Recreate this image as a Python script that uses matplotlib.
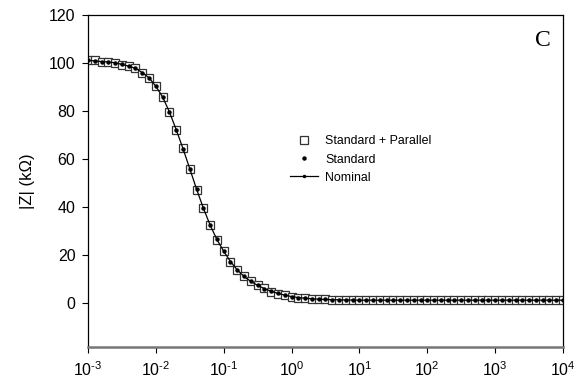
import numpy as np
import matplotlib
matplotlib.use("Agg")
import matplotlib.pyplot as plt

plt.rcParams['font.family'] = ['Liberation Sans', 'DejaVu Sans']
plt.rcParams['mathtext.fontset'] = 'custom'
plt.rcParams['mathtext.rm'] = 'Liberation Sans'
plt.rcParams['mathtext.default'] = 'regular'

# frequency points: 10 per decade, 1e-3 .. 1e4
exps = np.arange(0, 71) / 10.0 - 3
freq = 10 ** exps

# |Z| in kOhm
z_nominal = [101.1, 100.9, 100.6, 100.4, 100.1, 99.4, 98.7, 97.8, 96.0, 93.8,
             90.3, 85.8, 79.6, 72.2, 64.3, 55.9, 47.4, 39.5, 32.4, 26.4,
             21.5, 17.2, 13.7, 11.0, 8.9, 7.3, 5.9, 4.8, 3.9, 3.2,
             2.6, 2.2, 1.9, 1.7, 1.5, 1.4, 1.3, 1.25, 1.2, 1.15] + [1.1] * 31
z_standard = list(z_nominal)
z_parallel = [101.2, 101.4, 100.5, 100.4, 100.2, 99.3, 98.8, 97.9, 96.0, 93.9,
              90.3, 85.8, 79.6, 72.2, 64.5, 55.8, 47.2, 39.4, 32.4, 26.3,
              21.4, 17.1, 13.8, 11.1, 9.0, 7.4, 6.0, 4.7, 3.8, 3.2,
              2.6, 2.2, 1.9, 1.7, 1.5, 1.4, 1.3, 1.25, 1.2, 1.15] + [1.1] * 31

xtick_vals = [1e-3, 1e-2, 1e-1, 1e0, 1e1, 1e2, 1e3, 1e4]
xtick_labels = ['10$^{\u2010 3}$', '10$^{\u2010 2}$', '10$^{\u2010 1}$', '10$^{0}$',
                '10$^{1}$', '10$^{2}$', '10$^{3}$', '10$^{4}$']
ytick_vals = [0, 20, 40, 60, 80, 100, 120]

fig = plt.figure(figsize=(5.8, 3.86), dpi=100)
ax = fig.add_axes([0.1517, 0.1018, 0.819, 0.8593])

ax.plot(freq, z_parallel, ls='none', marker='s', ms=6.2, mfc='white',
        mec='#333333', mew=0.9, label='Standard + Parallel', zorder=2)
ax.plot(freq, z_standard, ls='none', marker='o', ms=2.2, color='black',
        label='Standard', zorder=3)
ax.plot(freq, z_nominal, ls='-', lw=0.9, color='black', marker='o', ms=1.2,
        markevery=[], label='Nominal', zorder=4)

ax.set_xscale('log')
ax.set_xlim(1e-3, 1e4)
ax.set_ylim(-18.3, 120)
ax.set_xticks(xtick_vals)
ax.set_xticklabels(xtick_labels)
ax.xaxis.set_minor_locator(matplotlib.ticker.NullLocator())
ax.set_yticks(ytick_vals)
ax.tick_params(axis='both', direction='out', length=4, width=0.8,
               labelsize=11.5, top=False, right=False, pad=5)
ax.tick_params(axis='x', pad=6)

for s in ['top', 'right', 'left']:
    ax.spines[s].set_linewidth(0.9)
ax.spines['bottom'].set_color('#777777')
ax.spines['bottom'].set_linewidth(1.8)

ax.set_ylabel('|Z| (k\u03a9)', fontsize=12, labelpad=10)

ax.text(0.975, 0.955, 'C', transform=ax.transAxes, ha='right', va='top',
        fontsize=17, family=['Liberation Serif', 'DejaVu Serif'])

leg = ax.legend(loc='upper left', bbox_to_anchor=(0.415, 0.652), frameon=False,
                fontsize=8.9, handlelength=2.3, handletextpad=0.55,
                labelspacing=0.5, borderaxespad=0)
# nominal handle shows a small dot in the middle
leg.legend_handles[2].set_marker('o')
leg.legend_handles[2].set_markersize(1.5)

fig.savefig('out.png', dpi=100)
